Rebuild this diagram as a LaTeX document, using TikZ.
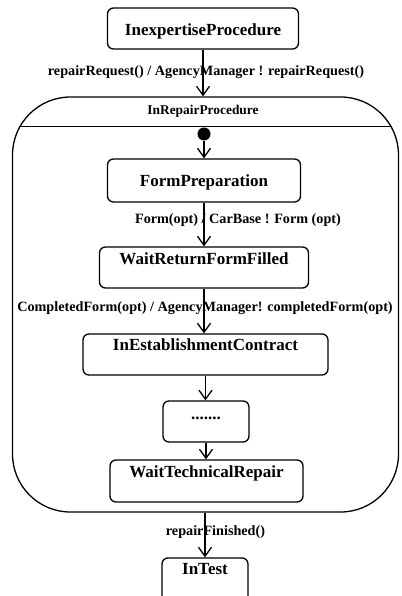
\documentclass[tikz,border=0pt]{standalone}
\usepackage{fontspec}
\setmainfont{Liberation Serif}
\usetikzlibrary{arrows.meta}
\begin{document}
\begin{tikzpicture}[x=1pt,y=-1pt,
  st/.style={draw, line width=1.3pt, rounded corners=6pt, inner sep=0pt, font=\fontsize{17}{17}\selectfont\bfseries},
  lbl/.style={font=\fontsize{14.2}{14.2}\selectfont\bfseries, inner sep=0pt},
  tr/.style={line width=1.3pt, -{Straight Barb[length=9pt,width=13pt]}}
]
\useasboundingbox (0,0) rectangle (401,596);
\clip (0,0) rectangle (401,596);

% composite state
\node[draw, line width=1.3pt, rounded corners=58pt, minimum width=386pt, minimum height=415pt, inner sep=0pt] (repair) at (205.5,304.5) {};
\draw[line width=1.3pt] ([xshift=7.2pt,yshift=-30pt]repair.north west) -- ([xshift=-7.2pt,yshift=-30pt]repair.north east);
\node[font=\fontsize{13.4}{13.4}\selectfont\bfseries, inner sep=0pt] (repairtitle) at (203,111) {InRepairProcedure};
\node[circle, fill, minimum size=13pt, inner sep=0pt] (init) at (204,134) {};

% states
\node[st, minimum width=191pt, text height=27.6pt, text depth=13.4pt] (inexp) at (203,28.5) {InexpertiseProcedure};
\node[st, minimum width=193pt, text height=27.6pt, text depth=15.4pt] (form) at (204,180.5) {FormPreparation};
\node[st, minimum width=209pt, text height=17.6pt, text depth=23.4pt] (wait) at (204,267.5) {WaitReturnFormFilled};
\node[st, minimum width=245pt, text height=16.6pt, text depth=24.4pt] (estab) at (205.5,354.5) {InEstablishmentContract};
\node[st, minimum width=86pt, text height=18pt, text depth=23pt] (dots) at (206,421.5) {.......};
\node[st, minimum width=193pt, text height=17.6pt, text depth=24.4pt] (tech) at (206.5,481) {WaitTechnicalRepair};
\node[st, minimum width=86pt, text height=16.6pt, text depth=40pt] (test) at (205,586.3) {InTest};

% transitions
\draw[tr] (inexp.south) -- (inexp.south |- repair.north);
\draw[tr] (init) -- (init |- form.north);
\draw[tr] (form.south) -- (form.south |- wait.north);
\draw[tr] (wait.south) -- (wait.south |- estab.north);
\draw[tr] (estab.south) -- (estab.south |- dots.north);
\draw[tr] (dots.south) -- (dots.south |- tech.north);
\draw[tr] (test.north |- repair.south) -- (test.north);

% labels
\node[lbl] (l1) at (206,72) {repairRequest() / AgencyManager ! repairRequest()};
\node[lbl] (l2) at (238,220) {Form(opt) / CarBase ! Form (opt)};
\node[lbl] (l3) at (205,308) {CompletedForm(opt) / AgencyManager! completedForm(opt)};
\node[lbl] (l4) at (215.5,532) {repairFinished()};
\end{tikzpicture}
\end{document}
